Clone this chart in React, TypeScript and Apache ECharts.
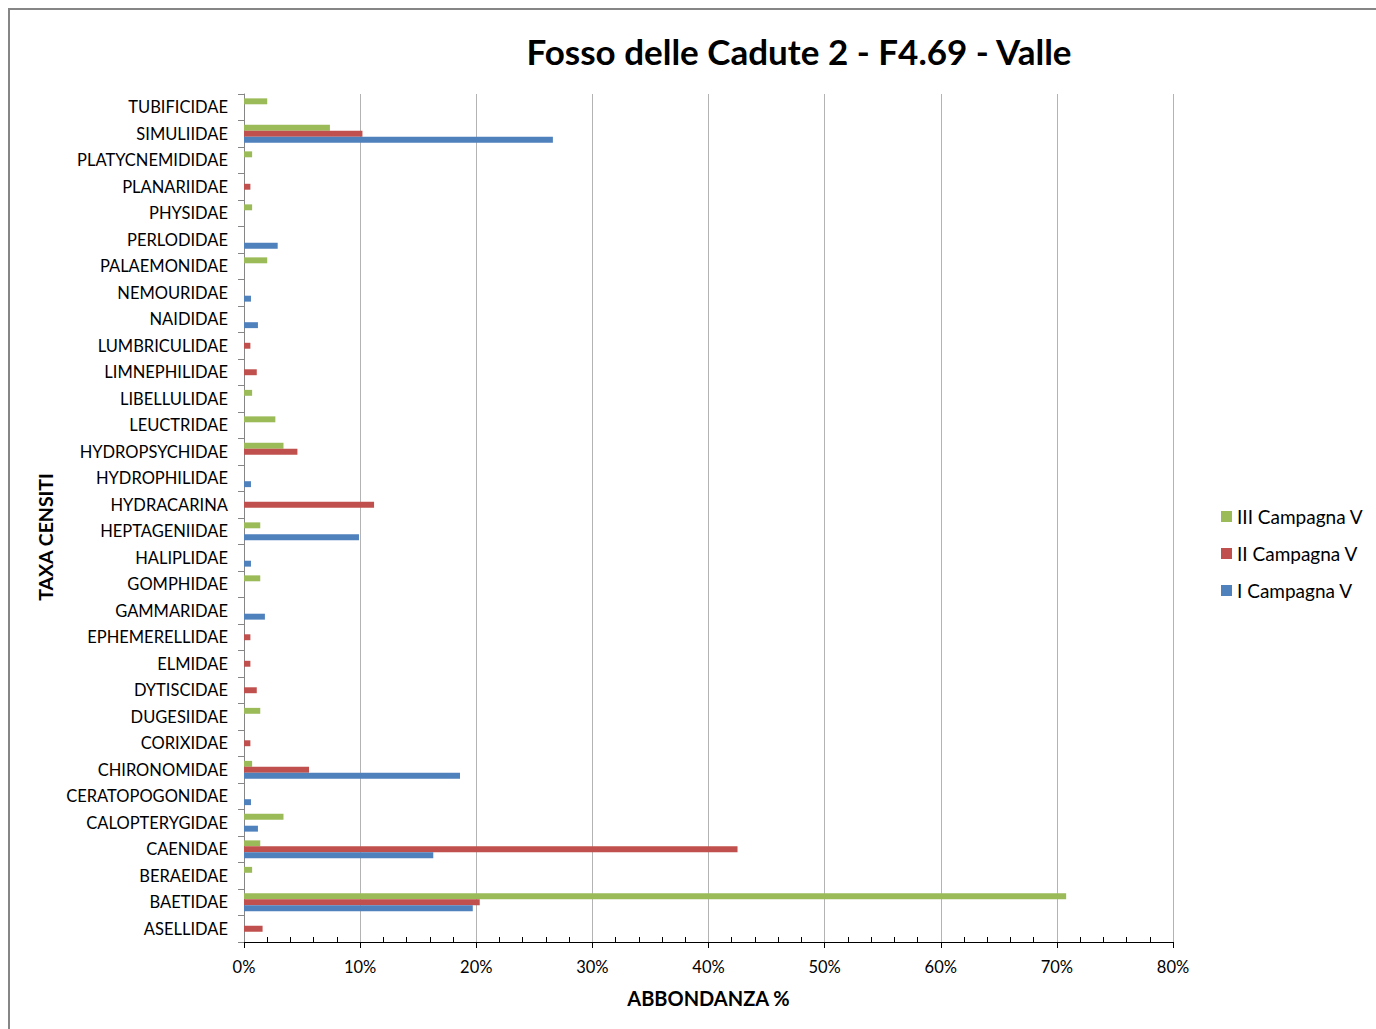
import React, { useEffect, useRef } from "react";
import * as echarts from "echarts";

// Taxa listed bottom-to-top (category axis starts at the bottom)
const taxa = [
  "ASELLIDAE", "BAETIDAE", "BERAEIDAE", "CAENIDAE", "CALOPTERYGIDAE",
  "CERATOPOGONIDAE", "CHIRONOMIDAE", "CORIXIDAE", "DUGESIIDAE", "DYTISCIDAE",
  "ELMIDAE", "EPHEMERELLIDAE", "GAMMARIDAE", "GOMPHIDAE", "HALIPLIDAE",
  "HEPTAGENIIDAE", "HYDRACARINA", "HYDROPHILIDAE", "HYDROPSYCHIDAE", "LEUCTRIDAE",
  "LIBELLULIDAE", "LIMNEPHILIDAE", "LUMBRICULIDAE", "NAIDIDAE", "NEMOURIDAE",
  "PALAEMONIDAE", "PERLODIDAE", "PHYSIDAE", "PLANARIIDAE", "PLATYCNEMIDIDAE",
  "SIMULIIDAE", "TUBIFICIDAE",
];

// Relative abundance (%) per campaign, same order as taxa
const campagna3 = [
  null, 70.8, 0.7, 1.4, 3.4,
  null, 0.7, null, 1.4, null,
  null, null, null, 1.4, null,
  1.4, null, null, 3.4, 2.7,
  0.7, null, null, null, null,
  2.0, null, 0.7, null, 0.7,
  7.4, 2.0,
];
const campagna2 = [
  1.6, 20.3, null, 42.5, null,
  null, 5.6, 0.55, null, 1.1,
  0.55, 0.55, null, null, null,
  null, 11.2, null, 4.6, null,
  null, 1.1, 0.55, null, null,
  null, null, null, 0.55, null,
  10.2, null,
];
const campagna1 = [
  null, 19.7, null, 16.3, 1.2,
  0.6, 18.6, null, null, null,
  null, null, 1.8, null, 0.6,
  9.9, null, 0.6, null, null,
  null, null, null, 1.2, 0.6,
  null, 2.9, null, null, null,
  26.6, null,
];

const seriesNames = ["III Campagna V", "II Campagna V", "I Campagna V"];
const seriesColors = ["#9BBB59", "#C0504D", "#4F81BD"];
const xTicks = { min: 0, max: 80, interval: 10 };

const FONT = "Lato, 'Open Sans', sans-serif";

export default function App() {
  const ref = useRef<HTMLDivElement>(null);

  useEffect(() => {
    if (!ref.current) return;
    const chart = echarts.init(ref.current, undefined, { renderer: "svg" });
    const values = [campagna3, campagna2, campagna1];

    chart.setOption({
      animation: false,
      backgroundColor: "#ffffff",
      textStyle: { fontFamily: FONT },
      graphic: [
        {
          type: "rect",
          shape: { x: 9, y: 9, width: 1400, height: 1100 },
          style: { fill: "none", stroke: "#868686", lineWidth: 2 },
          silent: true,
        },
        {
          type: "text",
          x: 799,
          y: 51,
          style: {
            text: "Fosso delle Cadute 2 - F4.69 - Valle",
            font: `bold 35px ${FONT}`,
            fill: "#000000",
            align: "center",
            verticalAlign: "middle",
          },
        },
        {
          type: "text",
          x: 45,
          y: 537,
          rotation: Math.PI / 2,
          style: {
            text: "TAXA CENSITI",
            font: `bold 19.5px ${FONT}`,
            fill: "#000000",
            align: "center",
            verticalAlign: "middle",
          },
        },
      ],
      legend: {
        data: seriesNames,
        orient: "vertical",
        left: 1221,
        top: 507,
        padding: 0,
        itemWidth: 11,
        itemHeight: 11,
        itemGap: 18,
        icon: "rect",
        textStyle: { fontSize: 19, color: "#000000", fontFamily: FONT },
      },
      grid: { left: 244, right: 203, top: 94, bottom: 87, containLabel: false },
      xAxis: {
        type: "value",
        min: xTicks.min,
        max: xTicks.max,
        interval: xTicks.interval,
        name: "ABBONDANZA %",
        nameLocation: "middle",
        nameGap: 56,
        nameTextStyle: {
          fontSize: 20,
          fontWeight: "bold",
          color: "#000000",
          fontFamily: FONT,
          verticalAlign: "middle",
        },
        axisLine: { show: true, lineStyle: { color: "#000000", width: 1 } },
        axisTick: { show: true, length: 6, lineStyle: { color: "#000000" } },
        minorTick: { show: true, splitNumber: 5, length: -5, lineStyle: { color: "#000000" } },
        splitLine: { show: true, lineStyle: { color: "#B3B3B3", width: 1 } },
        axisLabel: {
          formatter: "{value}%",
          fontSize: 16.5,
          color: "#000000",
          margin: 16,
          fontFamily: FONT,
        },
      },
      yAxis: {
        type: "category",
        data: taxa,
        axisLine: { show: true, lineStyle: { color: "#868686", width: 1 } },
        axisTick: { show: true, length: 6, alignWithLabel: false, lineStyle: { color: "#868686" } },
        axisLabel: {
          fontSize: 16.5,
          color: "#000000",
          margin: 16,
          fontFamily: FONT,
          interval: 0,
          padding: [0, 0, 2, 0],
        },
        splitLine: { show: false },
      },
      series: seriesNames.map((name, i) => ({
        name,
        type: "bar",
        data: values[i],
        barGap: "0%",
        barCategoryGap: "33%",
        itemStyle: { color: seriesColors[i] },
      })),
    });

    return () => chart.dispose();
  }, []);

  return (
    <div
      ref={ref}
      style={{ position: "fixed", left: 0, top: 0, width: 1376, height: 1029 }}
    />
  );
}
